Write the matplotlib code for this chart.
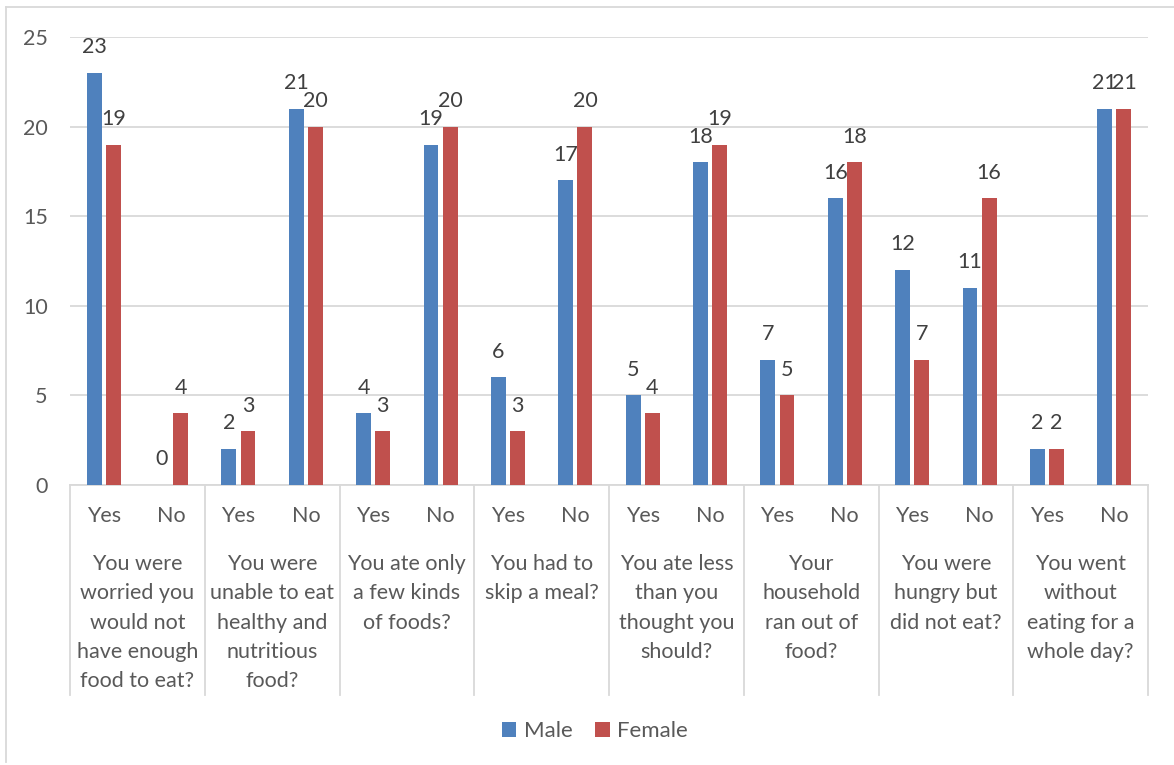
import matplotlib
matplotlib.use("Agg")
import matplotlib.pyplot as plt
from matplotlib.patches import Patch
from matplotlib.lines import Line2D
import matplotlib.transforms as mtransforms

questions = [
    "You were\nworried you\nwould not\nhave enough\nfood to eat?",
    "You were\nunable to eat\nhealthy and\nnutritious\nfood?",
    "You ate only\na few kinds\nof foods?",
    "You had to\nskip a meal?",
    "You ate less\nthan you\nthought you\nshould?",
    "Your\nhousehold\nran out of\nfood?",
    "You were\nhungry but\ndid not eat?",
    "You went\nwithout\neating for a\nwhole day?",
]
answers = ["Yes", "No"]
male = [23, 0, 2, 21, 4, 19, 6, 17, 5, 18, 7, 16, 12, 11, 2, 21]
female = [19, 4, 3, 20, 3, 20, 3, 20, 4, 19, 5, 18, 7, 16, 2, 21]
y_ticks = [0, 5, 10, 15, 20, 25]

BLUE = "#4F81BD"
RED = "#C0504D"
TXT = "#595959"
GRID = "#D9D9D9"
FONT = ["Lato", "DejaVu Sans"]
FS = 15.5

plt.rcParams["font.family"] = FONT

W, H = 1174, 765
fig = plt.figure(figsize=(W / 100, H / 100), dpi=100)
x0, x1, y0, y1 = 70, 1148, 485, 37
ax = fig.add_axes([x0 / W, 1 - y0 / H, (x1 - x0) / W, (y0 - y1) / H])

n = len(male)
xs = list(range(n))
bw = 0.22
off = 0.142
ax.bar([x - off for x in xs], male, width=bw, color=BLUE, zorder=3, label="Male")
ax.bar([x + off for x in xs], female, width=bw, color=RED, zorder=3, label="Female")

for x, v in zip(xs, male):
    ax.annotate(str(v), (x - off, v), xytext=(0, 18.5), textcoords="offset points",
                ha="center", va="center", fontsize=FS, color="#404040")
for x, v in zip(xs, female):
    ax.annotate(str(v), (x + off, v), xytext=(0, 18.5), textcoords="offset points",
                ha="center", va="center", fontsize=FS, color="#404040")

ax.set_xlim(-0.5, n - 0.5)
ax.set_ylim(0, 25)
ax.set_yticks(y_ticks)
ax.set_yticklabels([str(t) for t in y_ticks], fontsize=FS, color=TXT)
ax.tick_params(axis="y", length=0, pad=16)
ax.yaxis.grid(True, color=GRID, linewidth=1.3, zorder=0)
ax.set_axisbelow(True)

ax.set_xticks(xs)
ax.set_xticklabels([answers[i % 2] for i in xs], fontsize=FS, color=TXT)
ax.tick_params(axis="x", length=0, pad=15)

for s in ["top", "right", "left"]:
    ax.spines[s].set_visible(False)
ax.spines["bottom"].set_color(GRID)
ax.spines["bottom"].set_linewidth(1.3)

trans = mtransforms.blended_transform_factory(ax.transData, ax.transAxes)
ax_h = y0 - y1
sep_bottom = -(695 - y0) / ax_h
for g in range(len(questions) + 1):
    xb = g * 2 - 0.5
    ax.add_line(Line2D([xb, xb], [0, sep_bottom], transform=trans, color=GRID,
                       linewidth=1.3, clip_on=False))
label_top = -(554 - y0) / ax_h
for g, q in enumerate(questions):
    ax.text(g * 2 + 0.5, label_top, q, transform=trans, ha="center", va="top",
            fontsize=FS, color=TXT, linespacing=1.58, clip_on=False)

# outer chart border (top and left visible)
fig.add_artist(Line2D([6 / W, 1], [1 - 7 / H, 1 - 7 / H], transform=fig.transFigure,
                      color=GRID, linewidth=1.3))
fig.add_artist(Line2D([6 / W, 6 / W], [1 - 7 / H, 1 - 762 / H], transform=fig.transFigure,
                      color=GRID, linewidth=1.3))

handles = [Patch(facecolor=BLUE, label="Male"), Patch(facecolor=RED, label="Female")]
fig.legend(handles=handles, loc="center", bbox_to_anchor=(595 / W, 1 - 731 / H),
           ncol=2, frameon=False, fontsize=16, handlelength=0.65, handleheight=0.65,
           handletextpad=0.35, columnspacing=1.0, labelcolor=TXT)

fig.savefig("out.png", dpi=100)
